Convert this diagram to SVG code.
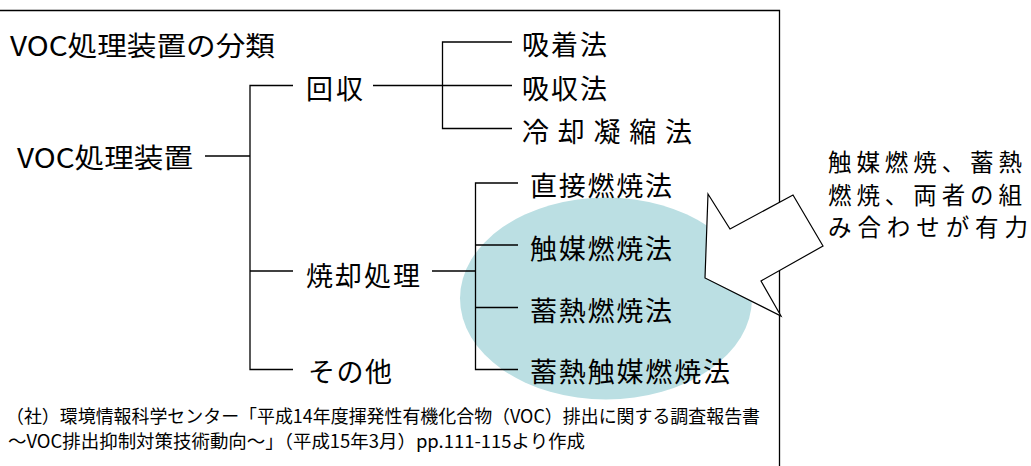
<svg xmlns="http://www.w3.org/2000/svg" width="1031" height="466" viewBox="0 0 1031 466">
<style>
  .t { font-family: "Noto Sans CJK JP", "Noto Sans", sans-serif; font-size: 27px; fill: #000; }
  .s { font-family: "Noto Sans CJK JP", "Noto Sans", sans-serif; font-size: 23.5px; fill: #000; }
  .f { font-family: "Noto Sans CJK JP", "Noto Sans", sans-serif; font-size: 18px; fill: #000; }
  .ln { stroke: #000; stroke-width: 1.3; fill: none; }
</style>
<rect width="1031" height="466" fill="#fff"/>
<g id="frame">
  <polyline class="ln" points="0,10.5 779.5,10.5 779.5,466"/>
</g>
<g id="highlight">
  <ellipse cx="606" cy="298.5" rx="146" ry="101" fill="#BBDFE3"/>
</g>
<g id="connectors">
  <line class="ln" x1="205" y1="156" x2="250" y2="156"/>
  <polyline class="ln" points="293,85.5 250,85.5 250,369.5 293,369.5"/>
  <line class="ln" x1="250" y1="271" x2="293" y2="271"/>
  <line class="ln" x1="373" y1="85.5" x2="512" y2="85.5"/>
  <polyline class="ln" points="512,42 442.5,42 442.5,128.5 512,128.5"/>
  <line class="ln" x1="432" y1="271" x2="475" y2="271"/>
  <polyline class="ln" points="518,183 475.5,183 475.5,369.5 518,369.5"/>
  <line class="ln" x1="475" y1="245" x2="518" y2="245"/>
  <line class="ln" x1="475" y1="307.5" x2="518" y2="307.5"/>
</g>
<g id="title"><text class="t" x="10" y="56" textLength="265" lengthAdjust="spacingAndGlyphs">VOC処理装置の分類</text></g>
<g id="root"><text class="t" x="17" y="168" textLength="176" lengthAdjust="spacingAndGlyphs">VOC処理装置</text></g>
<g id="kaishu"><text class="t" x="306" y="99" textLength="57" lengthAdjust="spacing">回収</text></g>
<g id="shokyaku"><text class="t" x="306" y="286" textLength="114" lengthAdjust="spacing">焼却処理</text></g>
<g id="sonota"><text class="t" x="308" y="382" textLength="84" lengthAdjust="spacing">その他</text></g>
<g id="kyuchaku"><text class="t" x="522" y="55" textLength="85" lengthAdjust="spacing">吸着法</text></g>
<g id="kyushu"><text class="t" x="522" y="99" textLength="85" lengthAdjust="spacing">吸収法</text></g>
<g id="reikyaku"><text class="t" x="522" y="142" textLength="170" lengthAdjust="spacing">冷却凝縮法</text></g>
<g id="chokusetsu"><text class="t" x="530" y="196" textLength="142" lengthAdjust="spacing">直接燃焼法</text></g>
<g id="shokubai"><text class="t" x="530" y="259" textLength="142" lengthAdjust="spacing">触媒燃焼法</text></g>
<g id="chikunetsu"><text class="t" x="530" y="321" textLength="142" lengthAdjust="spacing">蓄熱燃焼法</text></g>
<g id="chikunetsu-shokubai"><text class="t" x="530" y="382" textLength="200" lengthAdjust="spacing">蓄熱触媒燃焼法</text></g>
<g id="arrow">
  <polygon points="708,194 730,229 793,195 823,246 761,281 781,316 705,278" fill="#fff" stroke="#000" stroke-width="1.2" stroke-linejoin="miter"/>
</g>
<g id="note">
  <text class="s" x="828" y="171" textLength="194" lengthAdjust="spacing">触媒燃焼、蓄熱</text>
  <text class="s" x="828" y="204" textLength="194" lengthAdjust="spacing">燃焼、両者の組</text>
  <text class="s" x="828" y="236" textLength="200" lengthAdjust="spacing">み合わせが有力</text>
</g>
<g id="source">
  <text class="f" x="6" y="423" textLength="754" lengthAdjust="spacingAndGlyphs">（社）環境情報科学センター「平成14年度揮発性有機化合物（VOC）排出に関する調査報告書</text>
  <text class="f" x="8" y="448" textLength="577" lengthAdjust="spacingAndGlyphs">～VOC排出抑制対策技術動向～」（平成15年3月）pp.111-115より作成</text>
</g>
</svg>
